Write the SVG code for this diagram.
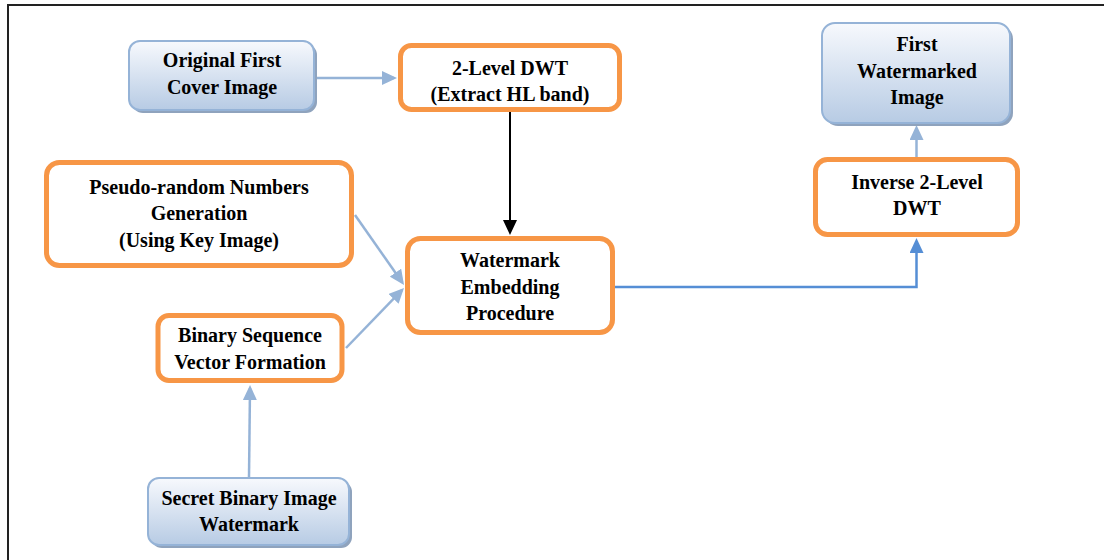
<svg xmlns="http://www.w3.org/2000/svg" width="1104" height="560" viewBox="0 0 1104 560">
  <style>
    .lbl { font-family: "Liberation Serif", "Times New Roman", serif; font-size: 20px; font-weight: bold; fill: #000; text-anchor: middle; }
    .blue { fill: url(#blueFill); stroke: #95b3d7; stroke-width: 2; }
    .shadow { fill: #8fa3bd; }
    .orange { fill: #fff; stroke: #f79646; stroke-width: 5; }
    .light { fill: none; stroke: #95b3d7; stroke-width: 2.5; marker-end: url(#headLight); }
    .dark { fill: none; stroke: #000; stroke-width: 2; marker-end: url(#headBlack); }
    .strong { fill: none; stroke: #558ed5; stroke-width: 2.5; marker-end: url(#headBlue); }
  </style>
  <defs>
    <linearGradient id="blueFill" x1="0" y1="0" x2="0" y2="1">
      <stop offset="0" stop-color="#f7f9fd"/>
      <stop offset="1" stop-color="#b7cbe4"/>
    </linearGradient>
    <marker id="headLight" markerUnits="userSpaceOnUse" markerWidth="16" markerHeight="14" refX="12" refY="7" orient="auto">
      <path d="M0,0 L15,7 L0,14 Z" fill="#95b3d7"/>
    </marker>
    <marker id="headBlue" markerUnits="userSpaceOnUse" markerWidth="16" markerHeight="14" refX="12" refY="7" orient="auto">
      <path d="M0,0 L15,7 L0,14 Z" fill="#558ed5"/>
    </marker>
    <marker id="headBlack" markerUnits="userSpaceOnUse" markerWidth="16" markerHeight="14" refX="12" refY="7" orient="auto">
      <path d="M0,0 L15,7 L0,14 Z" fill="#000"/>
    </marker>
  </defs>

  <rect width="1104" height="560" fill="#fff"/>
  <!-- page frame: top and left edges -->
  <path d="M8,560 L8,5 L1104,5" fill="none" stroke="#222" stroke-width="2"/>

  <g id="connectors">
    <line class="light" x1="317" y1="78" x2="394" y2="78"/>
    <line class="dark" x1="510" y1="112" x2="510" y2="232"/>
    <line class="light" x1="355" y1="215" x2="402.3" y2="282.5"/>
    <line class="light" x1="346" y1="348" x2="401.9" y2="290.2"/>
    <line class="light" x1="249" y1="477" x2="250" y2="388"/>
    <polyline class="strong" points="615,287 916.5,287 916.5,241"/>
    <line class="light" x1="916.5" y1="157" x2="916.5" y2="128"/>
  </g>

  <g id="original-cover">
    <rect class="shadow" x="132" y="44" width="185" height="69" rx="11"/>
    <rect class="blue" x="129" y="41" width="185" height="69" rx="11"/>
    <text class="lbl" x="222" y="67">Original First</text>
    <text class="lbl" x="222" y="94">Cover Image</text>
  </g>

  <g id="dwt">
    <rect class="orange" x="400.5" y="45.5" width="219" height="64" rx="11"/>
    <text class="lbl" x="510" y="75">2-Level DWT</text>
    <text class="lbl" x="510" y="101">(Extract HL band)</text>
  </g>

  <g id="pseudo-random">
    <rect class="orange" x="46.5" y="162.5" width="305" height="103" rx="13"/>
    <text class="lbl" x="199" y="194">Pseudo-random Numbers</text>
    <text class="lbl" x="199" y="220">Generation</text>
    <text class="lbl" x="199" y="247">(Using Key Image)</text>
  </g>

  <g id="embedding">
    <rect class="orange" x="407.5" y="238.5" width="205" height="94" rx="13"/>
    <text class="lbl" x="510" y="267">Watermark</text>
    <text class="lbl" x="510" y="294">Embedding</text>
    <text class="lbl" x="510" y="320">Procedure</text>
  </g>

  <g id="binary-sequence">
    <rect class="orange" x="158" y="315.5" width="184" height="65" rx="11"/>
    <text class="lbl" x="250" y="342">Binary Sequence</text>
    <text class="lbl" x="250" y="369">Vector Formation</text>
  </g>

  <g id="secret-watermark">
    <rect class="shadow" x="151" y="481" width="201" height="67" rx="11"/>
    <rect class="blue" x="148" y="478" width="201" height="67" rx="11"/>
    <text class="lbl" x="249" y="505">Secret Binary Image</text>
    <text class="lbl" x="249" y="531">Watermark</text>
  </g>

  <g id="inverse-dwt">
    <rect class="orange" x="815.5" y="159.5" width="202" height="75" rx="12"/>
    <text class="lbl" x="917" y="189">Inverse 2-Level</text>
    <text class="lbl" x="917" y="215">DWT</text>
  </g>

  <g id="first-watermarked">
    <rect class="shadow" x="825" y="26" width="188" height="100" rx="13"/>
    <rect class="blue" x="822" y="23" width="188" height="100" rx="13"/>
    <text class="lbl" x="917" y="51">First</text>
    <text class="lbl" x="917" y="78">Watermarked</text>
    <text class="lbl" x="917" y="104">Image</text>
  </g>
</svg>
